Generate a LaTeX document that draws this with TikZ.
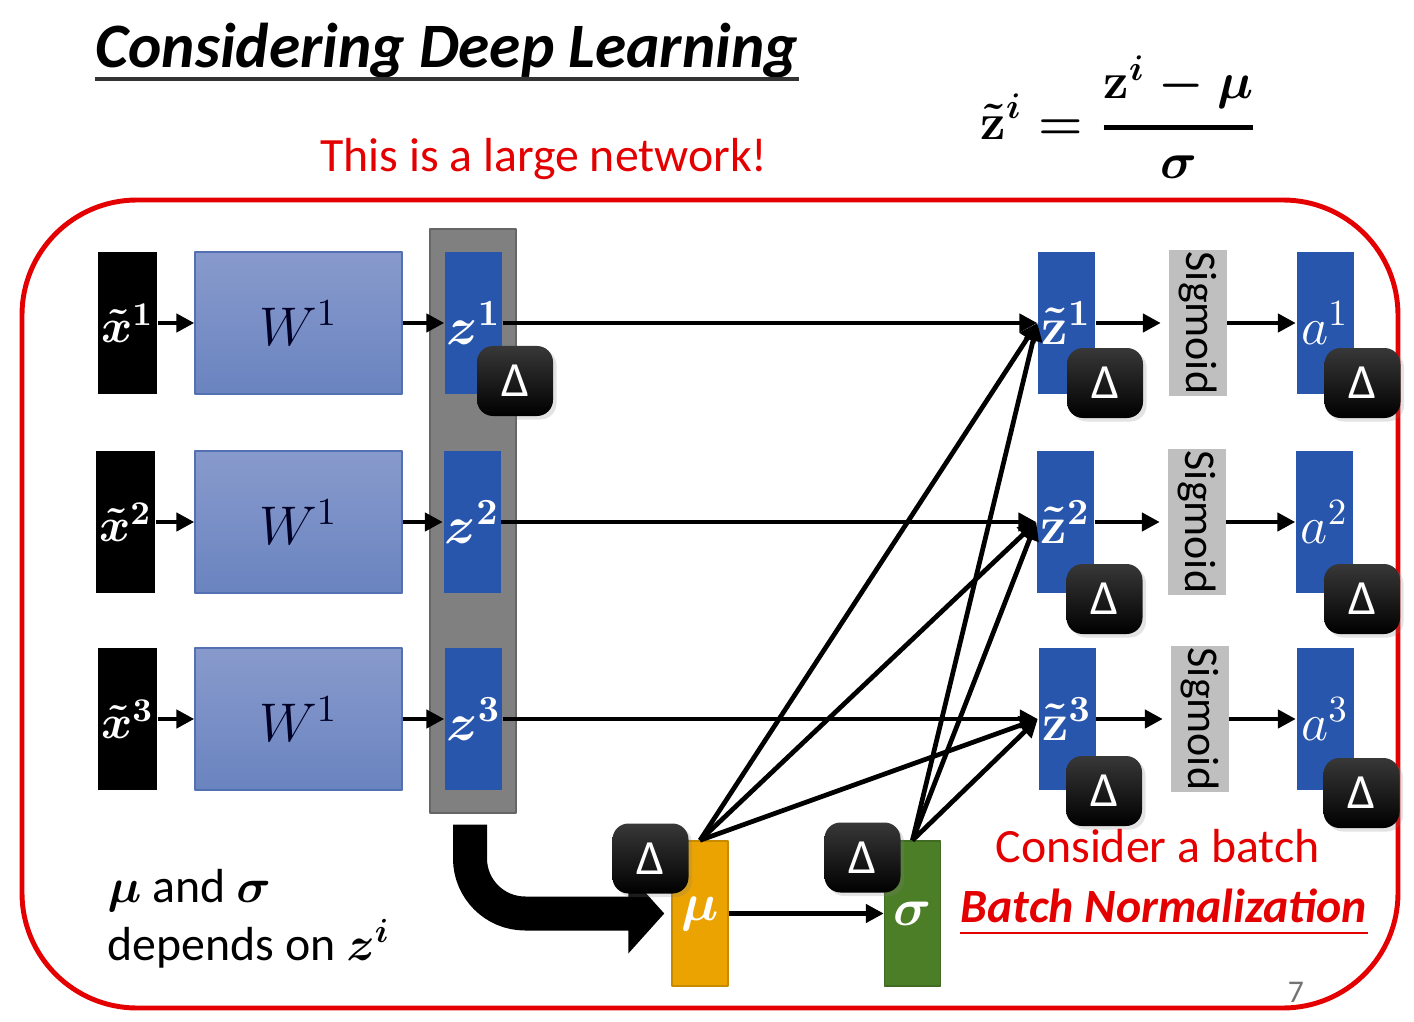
\RequirePackage{fix-cm}
\documentclass[tikz,border=0pt]{standalone}
\usepackage{amsmath}
\usepackage[no-math]{fontspec}
\setmainfont{Carlito}
\usetikzlibrary{arrows.meta,shadows}
\definecolor{bnred}{RGB}{228,0,0}
\definecolor{zblue}{RGB}{40,86,172}
\definecolor{wtop}{RGB}{136,154,204}
\definecolor{wbot}{RGB}{106,132,192}
\definecolor{wline}{RGB}{82,112,178}
\definecolor{colgray}{RGB}{128,128,128}
\definecolor{sggray}{RGB}{191,191,191}
\definecolor{muorange}{RGB}{234,163,0}
\definecolor{sgreen}{RGB}{76,126,40}
\begin{document}
\begin{tikzpicture}[>={Triangle[length=.18cm,width=.18cm]},line join=round,
	xbox/.style={fill=black,minimum width=.59cm,minimum height=1.42cm,inner sep=0pt,text=white,font=\fontsize{13.5}{16}\selectfont\boldmath},
	wbox/.style={top color=wtop,bottom color=wbot,draw=wline,minimum width=2.07cm,minimum height=1.42cm,inner sep=0pt,text=black!85!blue,font=\fontsize{15.5}{18}\selectfont},
	zbox/.style={fill=zblue,minimum width=.57cm,minimum height=1.42cm,inner sep=0pt,text=white,font=\fontsize{15}{17}\selectfont\boldmath},
	abox/.style={zbox,font=\fontsize{15}{17}\selectfont},
	sgbox/.style={fill=sggray,draw=black!25,rotate=-90,minimum width=1.45cm,minimum height=.57cm,inner sep=0pt,font=\fontsize{12.5}{14}\selectfont},
	stat/.style={minimum width=.56cm,minimum height=1.45cm,inner sep=0pt,text=white,font=\fontsize{15}{17}\selectfont\boldmath},
	dbox/.style={top color=black!78,bottom color=black,rounded corners=1.6mm,minimum width=.76cm,minimum height=.70cm,inner sep=0pt,text=white,font=\fontsize{14}{16}\selectfont,drop shadow={opacity=.22,shadow xshift=.035cm,shadow yshift=-.035cm}},
	link/.style={->,line width=1.35pt},
	redtxt/.style={text=bnred,inner sep=0pt,font=\fontsize{13.6}{16}\selectfont}]
	\useasboundingbox (0,0) rectangle (14.14,-10.22);
	\node[anchor=base west,inner sep=0pt,font=\fontsize{18}{22}\selectfont\bfseries\itshape] (title) at (0.95,-0.68) {Considering Deep Learning};
	\draw[line width=1pt,black!80] ([yshift=-.11cm]title.base west) -- ([yshift=-.11cm]title.base east);
	\node[font=\fontsize{14.5}{17}\selectfont\boldmath] (bnf) at (11.19,-1.17) {$\displaystyle\tilde{\mathbf{z}}^i=\genfrac{}{}{1.5pt}{0}{\mathbf{z}^i-\mu}{\sigma}$};
	\node[redtxt,anchor=base] (large) at (5.44,-1.72) {This is a large network!};
	\draw[bnred,line width=1.4pt,rounded corners=1.15cm] (0.22,-2.0) rectangle (13.98,-10.08);
	\node[fill=colgray,draw=black!60,minimum width=.86cm,minimum height=5.84cm,inner sep=0pt] (col) at (4.73,-5.21) {};
	\node[xbox] (xt1) at (1.275,-3.23) {$\tilde{x}^1$};
	\node[xbox] (xt2) at (1.255,-5.22) {$\tilde{x}^2$};
	\node[xbox] (xt3) at (1.275,-7.19) {$\tilde{x}^3$};
	\node[wbox] (w1) at (2.985,-3.23) {$W^1$};
	\node[wbox] (w2) at (2.985,-5.22) {$W^1$};
	\node[wbox] (w3) at (2.985,-7.19) {$W^1$};
	\node[zbox] (z1) at (4.735,-3.23) {$z^1$};
	\node[zbox] (z2) at (4.72,-5.22) {$z^2$};
	\node[zbox] (z3) at (4.735,-7.19) {$z^3$};
	\node[zbox] (zt1) at (10.665,-3.23) {$\tilde{\mathbf{z}}^1$};
	\node[zbox] (zt2) at (10.655,-5.22) {$\tilde{\mathbf{z}}^2$};
	\node[zbox] (zt3) at (10.67,-7.19) {$\tilde{\mathbf{z}}^3$};
	\node[sgbox] (sg1) at (11.98,-3.23) {Sigmoid};
	\node[sgbox] (sg2) at (11.97,-5.22) {Sigmoid};
	\node[sgbox] (sg3) at (12.0,-7.19) {Sigmoid};
	\node[abox] (a1) at (13.25,-3.23) {$a^1$};
	\node[abox] (a2) at (13.245,-5.22) {$a^2$};
	\node[abox] (a3) at (13.25,-7.19) {$a^3$};
	\node[stat,fill=muorange,draw=muorange!85!black] (mu) at (7.0,-9.135) {$\mu$};
	\node[stat,fill=sgreen,draw=sgreen!85!black] (sigma) at (9.125,-9.135) {$\sigma$};
	\draw[link] (xt1) -- (w1);
	\draw[link] (xt2) -- (w2);
	\draw[link] (xt3) -- (w3);
	\draw[link] (w1) -- (z1);
	\draw[link] (w2) -- (z2);
	\draw[link] (w3) -- (z3);
	\draw[link] (z1) -- (zt1);
	\draw[link] (z2) -- (zt2);
	\draw[link] (z3) -- (zt3);
	\draw[link,shorten >=.08cm] (zt1) -- (sg1.south);
	\draw[link,shorten >=.08cm] (zt2) -- (sg2.south);
	\draw[link,shorten >=.08cm] (zt3) -- (sg3.south);
	\draw[link] (sg1.north) -- (a1);
	\draw[link] (sg2.north) -- (a2);
	\draw[link] (sg3.north) -- (a3);
	\draw[link] (mu.north) -- (zt1.west);
	\draw[link] (mu.north) -- (zt2.west);
	\draw[link] (mu.north) -- (zt3.west);
	\draw[link] (sigma.north) -- (zt1.west);
	\draw[link] (sigma.north) -- (zt2.west);
	\draw[link] (sigma.north) -- (zt3.west);
	\draw[link] (mu) -- (sigma);
	\draw[line width=.34cm,-{Triangle[length=.36cm,width=.78cm]},rounded corners=.55cm] ([xshift=-.03cm,yshift=-.11cm]col.south) |- ([xshift=-.07cm]mu.west);
	\node[dbox] (d1) at (5.15,-3.81) {Δ};
	\node[dbox] (dt1) at (11.05,-3.83) {Δ};
	\node[dbox] (dt2) at (11.045,-5.99) {Δ};
	\node[dbox] (dt3) at (11.04,-7.91) {Δ};
	\node[dbox] (da1) at (13.625,-3.83) {Δ};
	\node[dbox] (da2) at (13.62,-5.99) {Δ};
	\node[dbox] (da3) at (13.615,-7.93) {Δ};
	\node[dbox] (dmu) at (6.505,-8.585) {Δ};
	\node[dbox] (dsigma) at (8.625,-8.575) {Δ};
	\node[redtxt,anchor=base] (batch) at (11.575,-8.62) {Consider a batch};
	\node[redtxt,anchor=base,font=\fontsize{13.6}{16}\selectfont\bfseries\itshape] (bn) at (11.64,-9.22) {Batch Normalization};
	\draw[bnred,line width=.6pt] ([yshift=-.11cm]bn.base west) -- ([yshift=-.11cm]bn.base east);
	\node[anchor=base west,inner sep=0pt,font=\fontsize{13.6}{16}\selectfont] (dep1) at (1.07,-9.02) {{\boldmath$\mu$} and {\boldmath$\sigma$}};
	\node[anchor=base west,inner sep=0pt,font=\fontsize{13.6}{16}\selectfont] (dep2) at (1.07,-9.60) {depends on {\boldmath$z^i$}};
	\node[text=black!55,font=\fontsize{9}{10}\selectfont] (pg) at (12.96,-9.92) {7};
\end{tikzpicture}
\end{document}
